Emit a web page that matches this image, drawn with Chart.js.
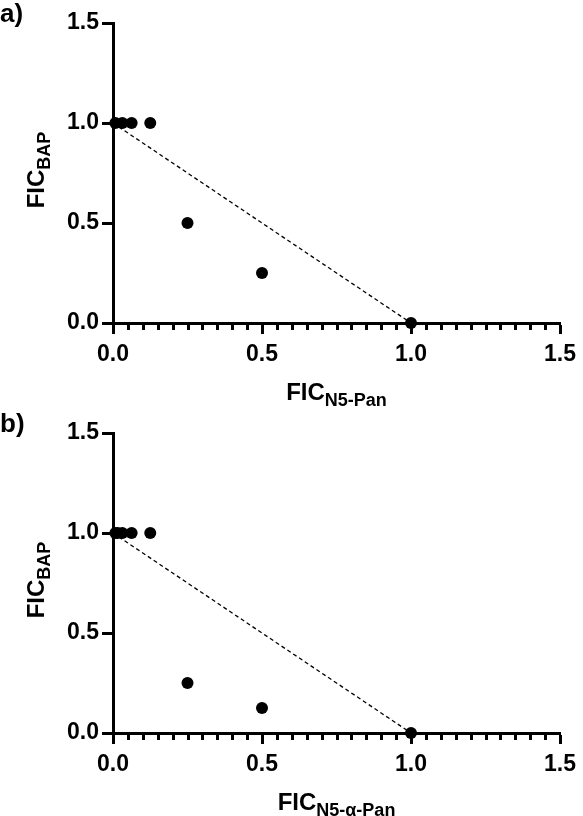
<!DOCTYPE html>
<html>
<head>
<meta charset="utf-8">
<script src="https://cdn.jsdelivr.net/npm/chart.js@4.4.1/dist/chart.umd.min.js"></script>
<style>
  html, body { margin: 0; padding: 0; background: #fff; }
  canvas { display: block; }
</style>
</head>
<body>
<canvas id="panelA" width="583" height="410"></canvas>
<canvas id="panelB" width="583" height="406"></canvas>
<script>
// panel a) FIC of N5-Pan vs FIC of BAP
const aFicN5 = [0.008, 0.03125, 0.0625, 0.125, 0.25, 0.5, 1.0];
const aFicBap = [1.0, 1.0, 1.0, 1.0, 0.5, 0.25, 0.0];

// panel b) FIC of N5-alpha-Pan vs FIC of BAP
const bFicN5 = [0.008, 0.0156, 0.03125, 0.0625, 0.125, 0.25, 0.5, 1.0];
const bFicBap = [1.0, 1.0, 1.0, 1.0, 1.0, 0.25, 0.125, 0.0];

// additivity line
const lineX = [0, 1];
const lineY = [1, 0];

// axis range
const axisMin = 0;
const axisMax = 1.5;
const majorStep = 0.5;
const minorStep = 0.05;

const FONT = "'Liberation Sans', Arial, sans-serif";
const tickFont = { family: FONT, size: 23, weight: 'bold' };

function toPoints(xs, ys) {
  return xs.map((x, i) => ({ x: x, y: ys[i] }));
}

function drawSubText(ctx, main, sub, x, y, angle) {
  ctx.save();
  ctx.translate(x, y);
  ctx.rotate(angle);
  ctx.fillStyle = '#000';
  ctx.textBaseline = 'alphabetic';
  ctx.textAlign = 'left';
  ctx.font = 'bold 24px ' + FONT;
  const w1 = ctx.measureText(main).width;
  ctx.font = 'bold 18px ' + FONT;
  const w2 = ctx.measureText(sub).width;
  const start = -(w1 + w2) / 2;
  ctx.font = 'bold 24px ' + FONT;
  ctx.fillText(main, start, 0);
  ctx.font = 'bold 18px ' + FONT;
  ctx.fillText(sub, start + w1, 6);
  ctx.restore();
}

const axisDecor = {
  id: 'axisDecor',
  afterDraw(chart, args, opts) {
    const { ctx, chartArea, scales } = chart;
    const xs = scales.x;
    ctx.save();
    // minor ticks on x
    ctx.strokeStyle = '#000';
    ctx.lineWidth = 3;
    const n = Math.round((axisMax - axisMin) / minorStep);
    const per = Math.round(majorStep / minorStep);
    for (let i = 1; i < n; i++) {
      if (i % per === 0) continue;
      const px = Math.round(xs.getPixelForValue(axisMin + i * minorStep)) + 0.5;
      ctx.beginPath();
      ctx.moveTo(px, chartArea.bottom);
      ctx.lineTo(px, chartArea.bottom + 7);
      ctx.stroke();
    }
    ctx.restore();

    // axis titles with subscripts
    const cx = (chartArea.left + chartArea.right) / 2;
    const cy = (chartArea.top + chartArea.bottom) / 2;
    drawSubText(ctx, 'FIC', opts.xSub, cx, chartArea.bottom + 77, 0);
    drawSubText(ctx, 'FIC', 'BAP', 44, cy - 3, -Math.PI / 2);

    // panel label
    ctx.save();
    ctx.fillStyle = '#000';
    ctx.font = 'bold 26px ' + FONT;
    ctx.textAlign = 'left';
    ctx.textBaseline = 'alphabetic';
    ctx.fillText(opts.label, 0, 22);
    ctx.restore();
  }
};

function makeChart(id, xs, ys, label, xSub, xHeight) {
  return new Chart(document.getElementById(id), {
    type: 'scatter',
    data: {
      datasets: [
        {
          data: toPoints(xs, ys),
          backgroundColor: '#000',
          borderColor: '#000',
          pointRadius: 6,
          pointBorderWidth: 0,
          showLine: false,
          clip: false
        },
        {
          data: toPoints(lineX, lineY),
          borderColor: '#000',
          borderWidth: 1.3,
          borderDash: [4, 3],
          pointRadius: 0,
          showLine: true,
          fill: false,
          clip: false
        }
      ]
    },
    options: {
      responsive: false,
      devicePixelRatio: 1,
      animation: false,
      events: [],
      layout: { padding: { top: 23, right: 19, left: 0, bottom: 0 } },
      plugins: {
        legend: { display: false },
        tooltip: { enabled: false },
        axisDecor: { label: label, xSub: xSub }
      },
      scales: {
        x: {
          type: 'linear',
          min: axisMin,
          max: axisMax,
          afterFit: (s) => { s.height = xHeight; },
          ticks: {
            stepSize: majorStep,
            callback: (v) => v.toFixed(1),
            font: tickFont,
            color: '#000',
            padding: 7,
            maxRotation: 0
          },
          grid: { drawOnChartArea: false, tickLength: 11, tickWidth: 3, tickColor: '#000' },
          border: { color: '#000', width: 3 }
        },
        y: {
          type: 'linear',
          min: axisMin,
          max: axisMax,
          afterFit: (s) => { s.width = 113; },
          ticks: {
            stepSize: majorStep,
            callback: (v) => v.toFixed(1),
            font: tickFont,
            color: '#000',
            padding: 3
          },
          grid: { drawOnChartArea: false, tickLength: 11, tickWidth: 3, tickColor: '#000' },
          border: { color: '#000', width: 3 }
        }
      }
    },
    plugins: [axisDecor]
  });
}

makeChart('panelA', aFicN5, aFicBap, 'a)', 'N5-Pan', 87);
makeChart('panelB', bFicN5, bFicBap, 'b)', 'N5-\u03b1-Pan', 83);
</script>
</body>
</html>
